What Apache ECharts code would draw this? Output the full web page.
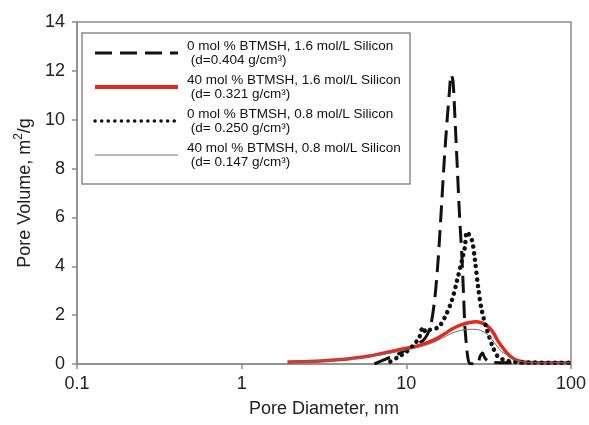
<!DOCTYPE html>
<html>
<head>
<meta charset="utf-8">
<script src="https://cdn.jsdelivr.net/npm/echarts@6/dist/echarts.min.js"></script>
<style>
  html, body { margin: 0; padding: 0; background: #fff; }
  #chart { width: 589px; height: 425px; }
</style>
</head>
<body>
<div id="chart"></div>
<script>
// series names and densities (legend)
var seriesNames = [
  '0 mol % BTMSH, 1.6 mol/L Silicon',
  '40 mol % BTMSH, 1.6 mol/L Silicon',
  '0 mol % BTMSH, 0.8 mol/L Silicon',
  '40 mol % BTMSH, 0.8 mol/L Silicon'
];
var densities = ['(d=0.404 g/cm\u00b3)', '(d= 0.321 g/cm\u00b3)', '(d= 0.250 g/cm\u00b3)', '(d= 0.147 g/cm\u00b3)'];

// x ticks (log)
var xTicks = [0.1, 1, 10, 100];

// 0 mol %, 1.6 mol/L (dashed)
var dashDiam = [6.4, 7.5, 8.5, 9.5, 11, 12.6, 13.4, 14.1, 14.9, 15.6, 16.3, 17, 17.7, 18.3, 18.7, 19.2, 19.7, 20.3, 21, 21.8, 22.3, 22.7, 23.2, 23.6, 24.3, 27, 28, 29, 30, 31.5, 34, 45, 100];
var dashVol  = [0, 0.2, 0.35, 0.5, 0.75, 0.95, 1.2, 1.6, 2.7, 4.26, 6.3, 8.35, 10.0, 11.2, 11.85, 11.6, 10.2, 8.35, 6.2, 4.26, 2.7, 1.5, 0.75, 0.3, 0.02, 0, 0.3, 0.45, 0.25, 0.1, 0.06, 0.05, 0.05];

// 40 mol %, 1.6 mol/L (red) and 40 mol %, 0.8 mol/L (grey)
var bridgedDiam = [1.9, 2.5, 3, 4, 4.75, 6, 7, 8, 9.5, 11, 12.1, 13.3, 15.4, 17.2, 19.2, 21.5, 24.2, 26.5, 28.8, 30.5, 32.3, 34, 35.6, 38, 40.8, 43.5, 46.6, 51, 56, 70, 100];
var redVol  = [0.08, 0.1, 0.12, 0.18, 0.24, 0.33, 0.42, 0.5, 0.62, 0.7, 0.77, 0.86, 1.05, 1.25, 1.45, 1.6, 1.7, 1.73, 1.68, 1.6, 1.45, 1.25, 1.0, 0.72, 0.45, 0.28, 0.16, 0.09, 0.06, 0.05, 0.05];
var greyVol = [0.08, 0.1, 0.12, 0.17, 0.22, 0.3, 0.38, 0.45, 0.55, 0.63, 0.7, 0.78, 0.95, 1.12, 1.28, 1.38, 1.42, 1.42, 1.35, 1.25, 1.1, 0.9, 0.72, 0.5, 0.38, 0.24, 0.14, 0.09, 0.06, 0.05, 0.05];

// 0 mol %, 0.8 mol/L (dotted)
var dotDiam = [8, 9, 10, 11, 12, 12.6, 13.2, 13.9, 15.6, 17.1, 18.9, 20.3, 21.8, 22.7, 23.3, 25, 26.1, 27.3, 28.7, 30.9, 33.5, 36, 40, 46, 55, 100];
var dotVol  = [0.1, 0.3, 0.5, 0.75, 1.1, 1.5, 1.3, 1.4, 1.5, 1.9, 2.6, 3.4, 4.26, 4.8, 5.4, 5.08, 4.26, 3.15, 2.2, 1.4, 0.7, 0.3, 0.15, 0.08, 0.06, 0.05];

function pairs(xs, ys) {
  var out = [];
  for (var i = 0; i < xs.length; i++) {
    out.push([xs[i], ys[i]]);
  }
  return out;
}

var font = 'Liberation Sans, Arial, sans-serif';
var axisGrey = '#8c8c8c';
var noSymbol = { color: 'rgba(0,0,0,0)', borderWidth: 0 };

var myChart = echarts.init(document.getElementById('chart'));
myChart.setOption({
  animation: false,
  backgroundColor: '#fff',
  grid: {
    left: 77, right: 18, top: 22, bottom: 61,
    show: true,
    borderColor: axisGrey,
    borderWidth: 1.5
  },
  graphic: [{
    type: 'rect',
    z: 1,
    shape: { x: 82, y: 33, width: 328, height: 151 },
    style: { fill: '#fff', stroke: axisGrey, lineWidth: 1.5 }
  }],
  legend: {
    orient: 'vertical',
    left: 93,
    top: 32,
    padding: 0,
    itemGap: -8,
    itemWidth: 83,
    itemHeight: 4,
    z: 5,
    textStyle: { fontFamily: font, fontSize: 13.5, lineHeight: 14, color: '#111', padding: [14, 0, 0, 4] },
    data: [
      { name: seriesNames[0], lineStyle: { width: 3 }, itemStyle: noSymbol },
      { name: seriesNames[1], lineStyle: { width: 4 }, itemStyle: noSymbol },
      { name: seriesNames[2], lineStyle: { width: 3.5 }, itemStyle: noSymbol },
      { name: seriesNames[3], lineStyle: { width: 1 }, itemStyle: noSymbol }
    ],
    formatter: function (name) {
      return name + '\n ' + densities[seriesNames.indexOf(name)];
    }
  },
  xAxis: {
    type: 'log',
    logBase: 10,
    min: 0.1,
    max: 100,
    name: 'Pore Diameter, nm',
    nameLocation: 'middle',
    nameGap: 36,
    nameTextStyle: { fontFamily: font, fontSize: 18, color: '#222' },
    axisLine: { lineStyle: { color: axisGrey, width: 1.5 } },
    axisTick: { length: 5, lineStyle: { color: axisGrey, width: 1.5 } },
    minorTick: { show: false },
    splitLine: { show: false },
    axisLabel: {
      fontFamily: font, fontSize: 18, color: '#222', margin: 11,
      formatter: function (v) { return xTicks.indexOf(v) >= 0 ? String(v) : ''; }
    }
  },
  yAxis: {
    type: 'value',
    min: 0,
    max: 14,
    interval: 2,
    name: '{a|Pore Volume, m}{s|2}{a|/g}',
    nameLocation: 'middle',
    nameGap: 40,
    nameTextStyle: {
      rich: {
        a: { fontFamily: font, fontSize: 18, color: '#222', lineHeight: 24 },
        s: { fontFamily: font, fontSize: 12, color: '#222', lineHeight: 24, verticalAlign: 'top' }
      }
    },
    axisLine: { show: true, lineStyle: { color: axisGrey, width: 1.5 } },
    axisTick: { show: true, length: 5, lineStyle: { color: axisGrey, width: 1.5 } },
    splitLine: { show: false },
    axisLabel: { fontFamily: font, fontSize: 18, color: '#222', margin: 12 }
  },
  series: [
    {
      name: seriesNames[0],
      type: 'line',
      symbol: 'none',
      smooth: 0.3,
      data: pairs(dashDiam, dashVol),
      lineStyle: { color: '#111', width: 3, type: [17, 8] },
      itemStyle: { color: '#111' },
      z: 2
    },
    {
      name: seriesNames[1],
      type: 'line',
      symbol: 'none',
      smooth: 0.3,
      data: pairs(bridgedDiam, redVol),
      lineStyle: { color: '#e42a1f', width: 3.5 },
      itemStyle: { color: '#e42a1f' },
      z: 3
    },
    {
      name: seriesNames[2],
      type: 'line',
      symbol: 'none',
      smooth: 0.3,
      data: pairs(dotDiam, dotVol),
      lineStyle: { color: '#111', width: 4.5, type: [0.1, 6.5], cap: 'round' },
      itemStyle: { color: '#111' },
      z: 4
    },
    {
      name: seriesNames[3],
      type: 'line',
      symbol: 'none',
      smooth: 0.3,
      data: pairs(bridgedDiam, greyVol),
      lineStyle: { color: '#707070', width: 1 },
      itemStyle: { color: '#707070' },
      z: 5
    }
  ]
});
</script>
</body>
</html>
